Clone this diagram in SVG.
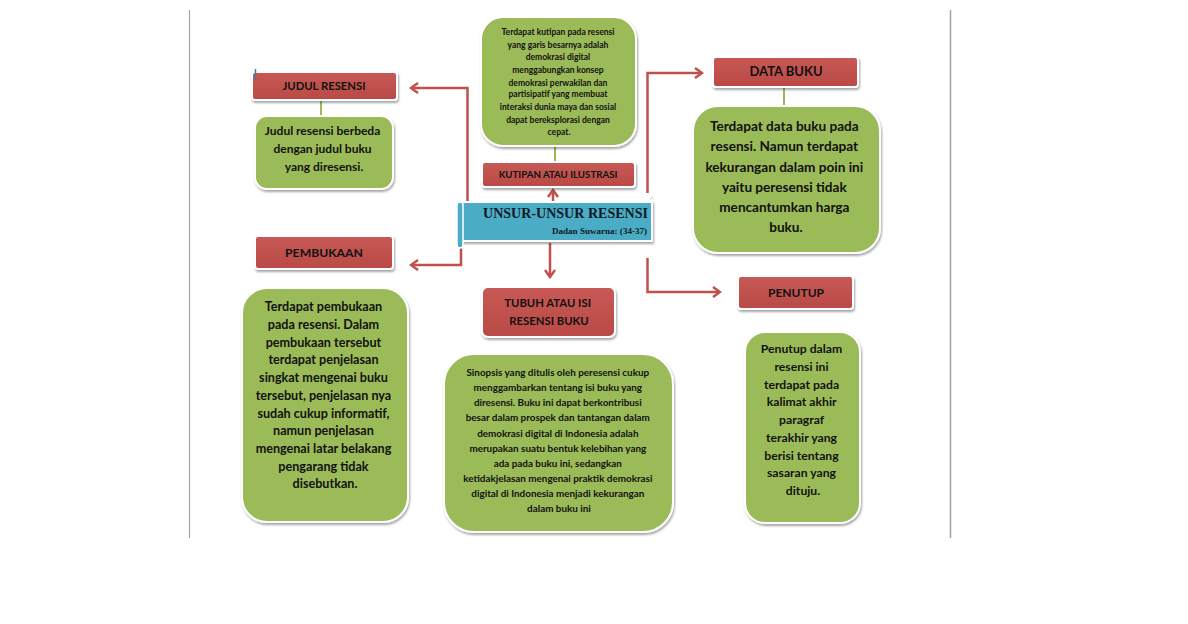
<svg xmlns="http://www.w3.org/2000/svg" width="1188" height="624" viewBox="0 0 1188 624">
<defs>
<filter id="sh" x="-10%" y="-10%" width="130%" height="130%">
<feDropShadow dx="1" dy="2" stdDeviation="1.2" flood-color="#000" flood-opacity="0.35"/>
</filter>
<linearGradient id="gr" x1="0" y1="0" x2="0" y2="1">
<stop offset="0" stop-color="#c75955"/>
<stop offset="1" stop-color="#b94a47"/>
</linearGradient>
<marker id="ah" viewBox="-10 -6 12 12" markerWidth="12" markerHeight="12" refX="0" refY="0" orient="auto" markerUnits="userSpaceOnUse">
<path d="M-7,-5 L0,0 L-7,5" fill="none" stroke="#c0504d" stroke-width="2.5" stroke-linejoin="miter"/>
</marker>
</defs>
<style>
.red{fill:url(#gr);stroke:#fff;stroke-width:2;filter:url(#sh)}
.grn{fill:#9bbb59;stroke:#fff;stroke-width:2;filter:url(#sh)}
.lab{font-family:Lato,"Liberation Sans",sans-serif;font-weight:bold;fill:#111;text-anchor:middle}
.body{font-family:Lato,"Liberation Sans",sans-serif;font-weight:bold;fill:#111;text-anchor:middle}
.con{fill:none;stroke:#c0504d;stroke-width:2.5}
.gcon{fill:none;stroke:#9bbb59;stroke-width:2}
</style>
<rect width="1188" height="624" fill="#fff"/>
<line x1="189.5" y1="10" x2="189.5" y2="538" stroke="#a0a4a8" stroke-width="1.2"/>
<line x1="950.5" y1="10" x2="950.5" y2="538" stroke="#a0a4a8" stroke-width="1.5"/>

<g id="connectors">
<path class="con" d="M467.5,203 V88 H411" marker-end="url(#ah)"/>
<path class="con" d="M461,248 V265 H411" marker-end="url(#ah)"/>
<path class="con" d="M647.5,193 V73 H702" marker-end="url(#ah)"/>
<path class="con" d="M647.5,258 V292 H720" marker-end="url(#ah)"/>
<path class="con" d="M553,203 V190" marker-end="url(#ah)"/>
<path class="con" d="M550,243 V277" marker-end="url(#ah)"/>
<path class="gcon" d="M321,100 V116"/>
<path class="gcon" d="M555,146 V162"/>
<path class="gcon" d="M784,87 V106"/>
</g>

<g id="center">
<rect x="462" y="202" width="190" height="39" fill="#4bacc6" stroke="#fff" stroke-width="2" filter="url(#sh)"/>
<rect x="457" y="202" width="6" height="46" rx="3" fill="#4bacc6" stroke="#fff" stroke-width="1.5"/>
<path d="M650,200 l2,-3 l2,3" fill="none" stroke="#c9d9e3" stroke-width="1"/>
<text x="648" y="217.5" font-family="'Liberation Serif',serif" font-weight="bold" font-size="14" text-anchor="end" textLength="165" lengthAdjust="spacingAndGlyphs" fill="#0d1a26">UNSUR-UNSUR RESENSI</text>
<text x="647" y="234" font-family="'Liberation Serif',serif" font-weight="bold" font-size="8.5" text-anchor="end" textLength="95" lengthAdjust="spacingAndGlyphs" fill="#0d1a26">Dadan Suwarna: (34-37)</text>
</g>

<g id="judul">
<rect class="red" x="252" y="72" width="145" height="28" rx="3"/>
<line x1="255.5" y1="69" x2="255.5" y2="80" stroke="#31849b" stroke-width="1.5"/>
<text class="lab" x="324" y="90" font-size="11.3">JUDUL RESENSI</text>
</g>
<g id="judul-desc">
<rect class="grn" x="255" y="116" width="138" height="73" rx="12"/>
<text class="body" font-size="12">
<tspan x="324" y="135">Judul resensi berbeda</tspan>
<tspan x="324" y="153">dengan judul buku</tspan>
<tspan x="324" y="171">yang diresensi.</tspan>
</text>
</g>

<g id="kutipan-desc">
<rect class="grn" x="481" y="17" width="155" height="129" rx="22"/>
<text class="body" font-size="8.5">
<tspan x="559" y="35">Terdapat kutipan pada resensi</tspan>
<tspan x="559" y="48">yang garis besarnya adalah</tspan>
<tspan x="559" y="60">demokrasi digital</tspan>
<tspan x="559" y="72.5">menggabungkan konsep</tspan>
<tspan x="559" y="85.5">demokrasi perwakilan dan</tspan>
<tspan x="559" y="97">partisipatif yang membuat</tspan>
<tspan x="559" y="110">interaksi dunia maya dan sosial</tspan>
<tspan x="559" y="123">dapat bereksplorasi dengan</tspan>
<tspan x="559" y="135">cepat.</tspan>
</text>
</g>
<g id="kutipan">
<rect class="red" x="482" y="162" width="153" height="25" rx="3"/>
<text class="lab" x="558" y="177.5" font-size="9.7">KUTIPAN ATAU ILUSTRASI</text>
</g>

<g id="databuku">
<rect class="red" x="713" y="57" width="145" height="30" rx="3"/>
<text class="lab" x="786" y="76" font-size="13">DATA BUKU</text>
</g>
<g id="databuku-desc">
<rect class="grn" x="693" y="106" width="187" height="147" rx="25"/>
<text class="body" font-size="13.6">
<tspan x="786" y="131">Terdapat data buku pada</tspan>
<tspan x="786" y="151">resensi. Namun terdapat</tspan>
<tspan x="786" y="172">kekurangan dalam poin ini</tspan>
<tspan x="786" y="192">yaitu peresensi tidak</tspan>
<tspan x="786" y="212">mencantumkan harga</tspan>
<tspan x="786" y="232">buku.</tspan>
</text>
</g>

<g id="pembukaan">
<rect class="red" x="255" y="236" width="138" height="33" rx="3"/>
<text class="lab" x="324" y="257" font-size="12.2">PEMBUKAAN</text>
</g>
<g id="pembukaan-desc">
<rect class="grn" x="242" y="288" width="166" height="234" rx="25"/>
<text class="body" font-size="12.6">
<tspan x="325" y="311">Terdapat pembukaan</tspan>
<tspan x="325" y="329">pada resensi. Dalam</tspan>
<tspan x="325" y="346.5">pembukaan tersebut</tspan>
<tspan x="325" y="364">terdapat penjelasan</tspan>
<tspan x="325" y="382">singkat mengenai buku</tspan>
<tspan x="325" y="400">tersebut, penjelasan nya</tspan>
<tspan x="325" y="417.5">sudah cukup informatif,</tspan>
<tspan x="325" y="435">namun penjelasan</tspan>
<tspan x="325" y="453">mengenai latar belakang</tspan>
<tspan x="325" y="471">pengarang tidak</tspan>
<tspan x="325" y="488">disebutkan.</tspan>
</text>
</g>

<g id="tubuh">
<rect class="red" x="482" y="287" width="133" height="50" rx="6"/>
<text class="lab" font-size="11.3">
<tspan x="549" y="307">TUBUH ATAU ISI</tspan>
<tspan x="549" y="325">RESENSI BUKU</tspan>
</text>
</g>
<g id="tubuh-desc">
<rect class="grn" x="444" y="354" width="229" height="178" rx="30"/>
<text class="body" font-size="9.9">
<tspan x="559" y="376">Sinopsis yang ditulis oleh peresensi cukup</tspan>
<tspan x="559" y="391">menggambarkan tentang isi buku yang</tspan>
<tspan x="559" y="406">diresensi. Buku ini dapat berkontribusi</tspan>
<tspan x="559" y="421">besar dalam prospek dan tantangan dalam</tspan>
<tspan x="559" y="437">demokrasi digital di Indonesia adalah</tspan>
<tspan x="559" y="452">merupakan suatu bentuk kelebihan yang</tspan>
<tspan x="559" y="467">ada pada buku ini, sedangkan</tspan>
<tspan x="559" y="482">ketidakjelasan mengenai praktik demokrasi</tspan>
<tspan x="559" y="497">digital di Indonesia menjadi kekurangan</tspan>
<tspan x="559" y="512">dalam buku ini</tspan>
</text>
</g>

<g id="penutup">
<rect class="red" x="738" y="276" width="115" height="33" rx="3"/>
<text class="lab" x="796" y="297" font-size="12">PENUTUP</text>
</g>
<g id="penutup-desc">
<rect class="grn" x="745" y="332" width="115" height="191" rx="20"/>
<text class="body" font-size="12.2">
<tspan x="803" y="353">Penutup dalam</tspan>
<tspan x="803" y="371">resensi ini</tspan>
<tspan x="803" y="388.5">terdapat pada</tspan>
<tspan x="803" y="406">kalimat akhir</tspan>
<tspan x="803" y="424">paragraf</tspan>
<tspan x="803" y="442">terakhir yang</tspan>
<tspan x="803" y="459.5">berisi tentang</tspan>
<tspan x="803" y="477">sasaran yang</tspan>
<tspan x="803" y="495">dituju.</tspan>
</text>
</g>
</svg>
